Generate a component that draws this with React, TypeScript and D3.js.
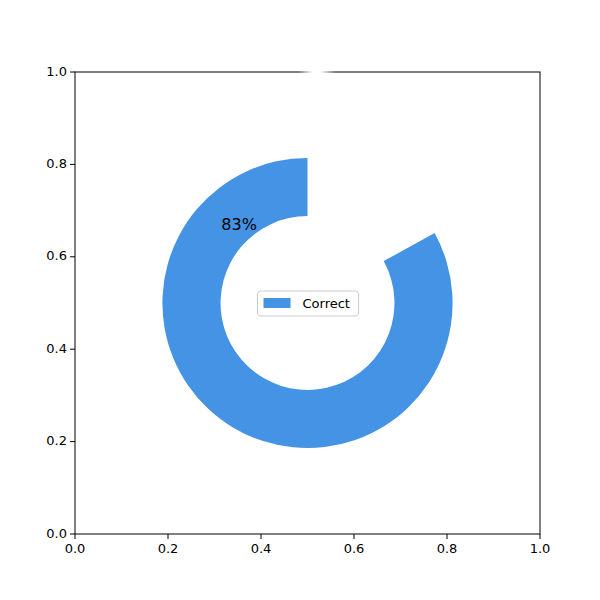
import * as React from "react";
import * as d3 from "d3";

const categories = ["Correct", "Incorrect"];
const values = [83, 17];
const colors = ["#4493e4", "#ffffff"];
const ticks = [0, 0.2, 0.4, 0.6, 0.8, 1.0];

const W = 600;
const H = 600;
const margin = { left: 75, right: 60, top: 72, bottom: 66 };

export default function App() {
  const x = d3.scaleLinear().domain([0, 1]).range([margin.left, W - margin.right]);
  const y = d3.scaleLinear().domain([0, 1]).range([H - margin.bottom, margin.top]);

  const cx = x(0.5);
  const cy = y(0.5);
  const outerR = x(0.312) - x(0);
  const innerR = x(0.187) - x(0);

  const total = d3.sum(values);
  // clockwise from top: blue takes the big share, gap sits on the right
  const gapStart = (values[1] / total) * 2 * Math.PI;
  const arc = d3.arc<any>().innerRadius(innerR).outerRadius(outerR);
  const mainPath = arc({ startAngle: gapStart, endAngle: 2 * Math.PI }) || "";

  const pct = Math.round((values[0] / total) * 100) + "%";

  return (
    <svg
      width={W}
      height={H}
      style={{ position: "absolute", left: 0, top: 0, background: "#fff" }}
      fontFamily="DejaVu Sans, sans-serif"
    >
      <defs>
        <linearGradient id="fade" x1="0" x2="1" y1="0" y2="0">
          <stop offset="0" stopColor="#fff" stopOpacity={0} />
          <stop offset="0.4" stopColor="#fff" stopOpacity={1} />
          <stop offset="0.6" stopColor="#fff" stopOpacity={1} />
          <stop offset="1" stopColor="#fff" stopOpacity={0} />
        </linearGradient>
      </defs>

      <path d={mainPath} transform={`translate(${cx},${cy})`} fill={colors[0]} />

      <text x={x(0.353)} y={y(0.667)} fontSize={16} textAnchor="middle" dominantBaseline="middle" fill="#000">
        {pct}
      </text>

      {/* axes frame */}
      <rect
        x={x(0)}
        y={y(1)}
        width={x(1) - x(0)}
        height={y(0) - y(1)}
        fill="none"
        stroke="#000"
        strokeWidth={1}
      />
      <rect x={x(0.48)} y={y(1) - 1.5} width={x(0.56) - x(0.48)} height={3} fill="url(#fade)" />

      {ticks.map((t) => (
        <g key={"x" + t}>
          <line x1={x(t)} x2={x(t)} y1={y(0)} y2={y(0) + 5} stroke="#000" />
          <text x={x(t)} y={y(0) + 19} fontSize={13} textAnchor="middle" fill="#000">
            {t.toFixed(1)}
          </text>
        </g>
      ))}
      {ticks.map((t) => (
        <g key={"y" + t}>
          <line x1={x(0) - 5} x2={x(0)} y1={y(t)} y2={y(t)} stroke="#000" />
          <text x={x(0) - 8} y={y(t)} fontSize={13} textAnchor="end" dominantBaseline="middle" fill="#000">
            {t.toFixed(1)}
          </text>
        </g>
      ))}

      {/* legend */}
      <g transform={`translate(${cx - 50},${cy - 12})`}>
        <rect x={0} y={0} width={101} height={25} rx={3} fill="#fff" stroke="#ccc" />
        <rect x={6} y={7} width={27} height={10} fill={colors[0]} />
        <text x={45} y={13} fontSize={13} dominantBaseline="middle" fill="#000">
          {categories[0]}
        </text>
      </g>
    </svg>
  );
}
